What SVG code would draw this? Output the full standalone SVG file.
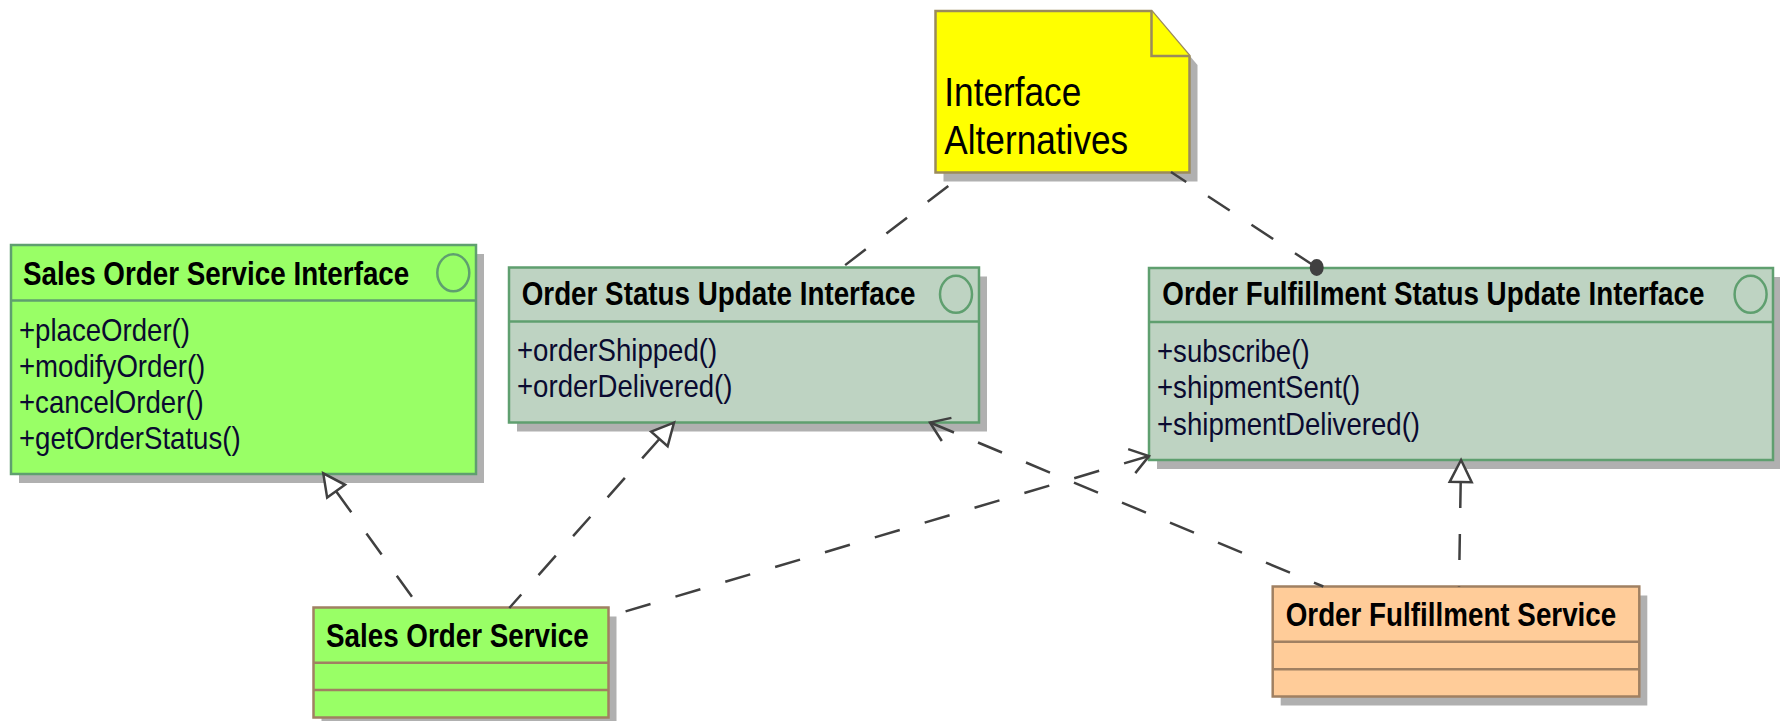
<svg xmlns="http://www.w3.org/2000/svg" width="1780" height="721" viewBox="0 0 1780 721">
<style>
.shadow{fill:#b0b0b0;stroke:none}
.ifc{fill:#bed3c2;stroke:#5f9f6f;stroke-width:2.5}
.ifcg{fill:#99ff66;stroke:#5f9f6f;stroke-width:2.5}
.sepg{stroke:#5f9f6f;stroke-width:2.5}
.cls{stroke:#a08062;stroke-width:2.5}
.sepc{stroke:#a08062;stroke-width:2.5}
.icon{fill:none;stroke:#5f9f6f;stroke-width:2.5}
.note{fill:#ffff00;stroke:#9b8b5b;stroke-width:2.5}
.title{font-family:"Liberation Sans",Arial,sans-serif;font-weight:bold;font-size:27.8px;fill:#000}
.meth{font-family:"Liberation Sans",Arial,sans-serif;font-size:27.6px;fill:#0a0a30}
.ntext{font-family:"Liberation Sans",Arial,sans-serif;font-size:35.2px;fill:#000}
.conn{fill:none;stroke:#404040;stroke-width:2.5;stroke-dasharray:26 26}
</style>
<defs>
<marker id="tri" markerUnits="userSpaceOnUse" markerWidth="40" markerHeight="40" refX="0" refY="0" orient="auto-start-reverse" overflow="visible">
<path d="M22,0 L0,-11 L0,11 Z" fill="#fff" stroke="#404040" stroke-width="2.5" stroke-dasharray="none"/>
</marker>
<marker id="open" markerUnits="userSpaceOnUse" markerWidth="40" markerHeight="40" refX="0" refY="0" orient="auto-start-reverse" overflow="visible">
<path d="M-18,-12.5 L0,0 L-18,12.5" fill="none" stroke="#404040" stroke-width="2.5" stroke-dasharray="none"/>
</marker>
<marker id="dot" markerUnits="userSpaceOnUse" markerWidth="20" markerHeight="20" refX="0" refY="0" orient="0" overflow="visible">
<ellipse cx="0" cy="0" rx="7" ry="8.5" fill="#404040" stroke="none"/>
</marker>
</defs>

<g id="sales-order-service-interface">
<rect class="shadow" x="19" y="254" width="465" height="229"/>
<rect class="ifcg" x="11" y="245" width="465" height="229"/>
<line class="sepg" x1="11" y1="300.5" x2="476" y2="300.5"/>
<ellipse class="icon" cx="453.3" cy="272.8" rx="16" ry="18.5"/>
<text class="title" transform="translate(23 285) scale(1 1.17)">Sales Order Service Interface</text>
<text class="meth" transform="translate(19 340.7) scale(1 1.15)">+placeOrder()</text>
<text class="meth" transform="translate(19 376.7) scale(1 1.15)">+modifyOrder()</text>
<text class="meth" transform="translate(19 412.7) scale(1 1.15)">+cancelOrder()</text>
<text class="meth" transform="translate(19 448.5) scale(1 1.15)">+getOrderStatus()</text>
</g>

<g id="order-status-update-interface">
<rect class="shadow" x="517" y="276.5" width="470" height="155"/>
<rect class="ifc" x="509" y="267.5" width="470" height="155"/>
<line class="sepg" x1="509" y1="321.5" x2="979" y2="321.5"/>
<ellipse class="icon" cx="956" cy="294.3" rx="16" ry="18.5"/>
<text class="title" transform="translate(521.7 305) scale(1 1.17)">Order Status Update Interface</text>
<text class="meth" transform="translate(517 361) scale(1 1.15)">+orderShipped()</text>
<text class="meth" transform="translate(517 396.7) scale(1 1.15)">+orderDelivered()</text>
</g>

<g id="order-fulfillment-status-update-interface">
<rect class="shadow" x="1157" y="277" width="624" height="192"/>
<rect class="ifc" x="1149" y="268" width="624" height="192"/>
<line class="sepg" x1="1149" y1="322" x2="1773" y2="322"/>
<ellipse class="icon" cx="1750.6" cy="294.3" rx="16" ry="18.5"/>
<text class="title" transform="translate(1162.3 305) scale(1 1.17)">Order Fulfillment Status Update Interface</text>
<text class="meth" transform="translate(1157 361.7) scale(1 1.15)">+subscribe()</text>
<text class="meth" transform="translate(1157 398.3) scale(1 1.15)">+shipmentSent()</text>
<text class="meth" transform="translate(1157 435) scale(1 1.15)">+shipmentDelivered()</text>
</g>

<g id="sales-order-service">
<rect class="shadow" x="321.5" y="616.5" width="295" height="110"/>
<rect class="cls" fill="#99ff66" x="313.5" y="607.5" width="295" height="110"/>
<line class="sepc" x1="313.5" y1="662.7" x2="608.5" y2="662.7"/>
<line class="sepc" x1="313.5" y1="690" x2="608.5" y2="690"/>
<text class="title" transform="translate(326 646.7) scale(1 1.17)">Sales Order Service</text>
</g>

<g id="order-fulfillment-service">
<rect class="shadow" x="1280.7" y="595.5" width="366.6" height="110"/>
<rect class="cls" fill="#ffcc99" x="1272.7" y="586.5" width="366.6" height="110"/>
<line class="sepc" x1="1272.7" y1="641.7" x2="1639.3" y2="641.7"/>
<line class="sepc" x1="1272.7" y1="669.3" x2="1639.3" y2="669.3"/>
<text class="title" transform="translate(1285.7 625.7) scale(1 1.17)">Order Fulfillment Service</text>
</g>

<g id="note-interface-alternatives">
<polygon class="shadow" points="943.5,20 1159.5,20 1197.5,65 1197.5,181.5 943.5,181.5"/>
<polygon class="note" points="935.5,11 1151.5,11 1189.5,56 1189.5,172.5 935.5,172.5"/>
<polyline class="note" fill="none" points="1151.5,11 1151.5,56 1189.5,56"/>
<text class="ntext" transform="translate(944.3 106) scale(1 1.17)">Interface</text>
<text class="ntext" transform="translate(944.3 154) scale(1 1.17)">Alternatives</text>
</g>

<g id="connectors">
<path class="conn" d="M336.1,491.2 L419.3,607" marker-start="url(#tri)"/>
<path class="conn" d="M659.4,439 L509.3,608" marker-start="url(#tri)"/>
<path class="conn" d="M1149,456 L608.5,616.5" marker-start="url(#open)"/>
<path class="conn" d="M930,422.5 L1323.3,586.5" marker-start="url(#open)"/>
<path class="conn" d="M1460.7,482 L1459,586.5" marker-start="url(#tri)"/>
<path class="conn" d="M948.3,186 L842.7,267"/>
<path class="conn" d="M1316.7,267.5 L1171,172" marker-start="url(#dot)"/>
</g>
</svg>
